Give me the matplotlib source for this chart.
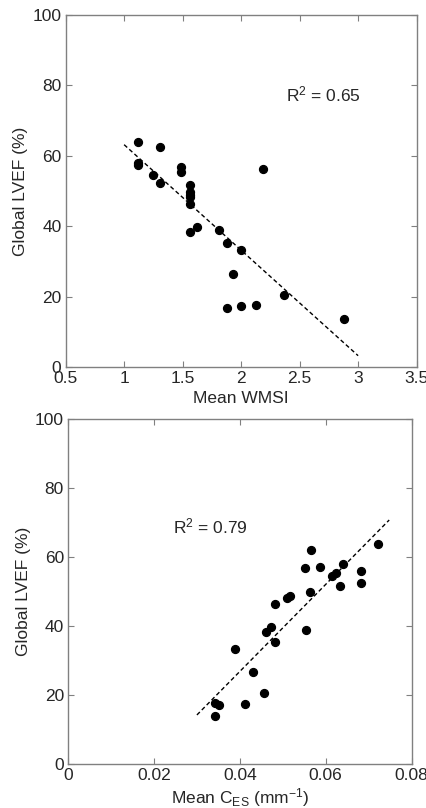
import matplotlib
matplotlib.use('Agg')
import matplotlib.pyplot as plt
import numpy as np

plt.rcParams['font.family'] = ['Liberation Sans', 'DejaVu Sans']
plt.rcParams['mathtext.fontset'] = 'custom'
plt.rcParams['mathtext.rm'] = 'Liberation Sans'
plt.rcParams['mathtext.it'] = 'Liberation Sans'

# ── data ──────────────────────────────────────────────────────────────────────
wmsi = [1.12, 1.12, 1.12, 1.31, 1.25, 1.31, 1.49, 1.49,
        1.56, 1.56, 1.56, 1.56, 1.56, 2.19,
        1.56, 1.62, 1.81, 1.88, 2.00, 1.93, 1.88, 2.00, 2.13, 2.37, 2.88]
lvef_wmsi = [63.9, 57.9, 57.3, 62.4, 54.6, 52.3, 57.0, 55.5,
             51.8, 49.9, 48.8, 48.3, 46.4, 56.2,
             38.4, 39.9, 39.0, 35.4, 33.3, 26.5, 16.9, 17.4, 17.6, 20.6, 13.8]
wmsi_fit_x = [1.0, 3.0]
wmsi_fit_y = [63.2, 3.3]

ces = [0.0721, 0.0565, 0.0551, 0.0586, 0.0641, 0.0614, 0.0623, 0.0683,
       0.0683, 0.0633, 0.0563, 0.0509, 0.0516, 0.0482,
       0.0472, 0.0461, 0.0482, 0.0555, 0.0389, 0.0431, 0.0456, 0.0413,
       0.0342, 0.0352, 0.0341]
lvef_ces = [63.9, 62.1, 56.8, 57.3, 58.0, 54.7, 55.4, 56.1,
            52.5, 51.8, 49.9, 48.3, 48.8, 46.4,
            39.9, 38.3, 35.5, 38.9, 33.4, 26.8, 20.6, 17.5,
            17.9, 17.1, 13.9]
ces_fit_x = [0.030, 0.0748]
ces_fit_y = [14.3, 70.8]

EDGE = '#808080'
TXT = '#262626'
FS = 12.5


def style_axes(ax):
    for s in ax.spines.values():
        s.set_color(EDGE)
        s.set_linewidth(1.0)
    ax.tick_params(direction='in', top=True, right=True, length=4,
                   color=EDGE, labelcolor=TXT, labelsize=FS, pad=3)


fig = plt.figure(figsize=(4.26, 8.08), dpi=100)

# top panel: WMSI
ax1 = fig.add_axes([0.154, 0.5454, 0.824, 0.436])
ax1.scatter(wmsi, lvef_wmsi, s=32, color='black', zorder=3)
ax1.plot(wmsi_fit_x, wmsi_fit_y, '--', color='black', lw=1.0, dashes=(3, 2))
ax1.set_xlim(0.5, 3.5)
ax1.set_ylim(0, 100)
ax1.set_xticks([0.5, 1, 1.5, 2, 2.5, 3, 3.5])
ax1.set_xticklabels(['0.5', '1', '1.5', '2', '2.5', '3', '3.5'])
ax1.set_yticks([0, 20, 40, 60, 80, 100])
ax1.set_xlabel('Mean WMSI', fontsize=FS, color=TXT, labelpad=3)
ax1.set_ylabel('Global LVEF (%)', fontsize=FS, color=TXT, labelpad=3)
ax1.text(2.38, 77.4, 'R$^2$ = 0.65', fontsize=FS, color=TXT, va='center')
style_axes(ax1)

# bottom panel: C_ES
ax2 = fig.add_axes([0.160, 0.0541, 0.806, 0.427])
ax2.scatter(ces, lvef_ces, s=32, color='black', zorder=3)
ax2.plot(ces_fit_x, ces_fit_y, '--', color='black', lw=1.0, dashes=(3, 2))
ax2.set_xlim(0, 0.08)
ax2.set_ylim(0, 100)
ax2.set_xticks([0, 0.02, 0.04, 0.06, 0.08])
ax2.set_xticklabels(['0', '0.02', '0.04', '0.06', '0.08'])
ax2.set_yticks([0, 20, 40, 60, 80, 100])
ax2.set_xlabel('Mean C$_{ES}$ (mm$^{-1}$)', fontsize=FS, color=TXT, labelpad=2)
ax2.set_ylabel('Global LVEF (%)', fontsize=FS, color=TXT, labelpad=3)
ax2.text(0.0245, 68.9, 'R$^2$ = 0.79', fontsize=FS, color=TXT, va='center')
style_axes(ax2)

fig.savefig('out.png', dpi=100)
